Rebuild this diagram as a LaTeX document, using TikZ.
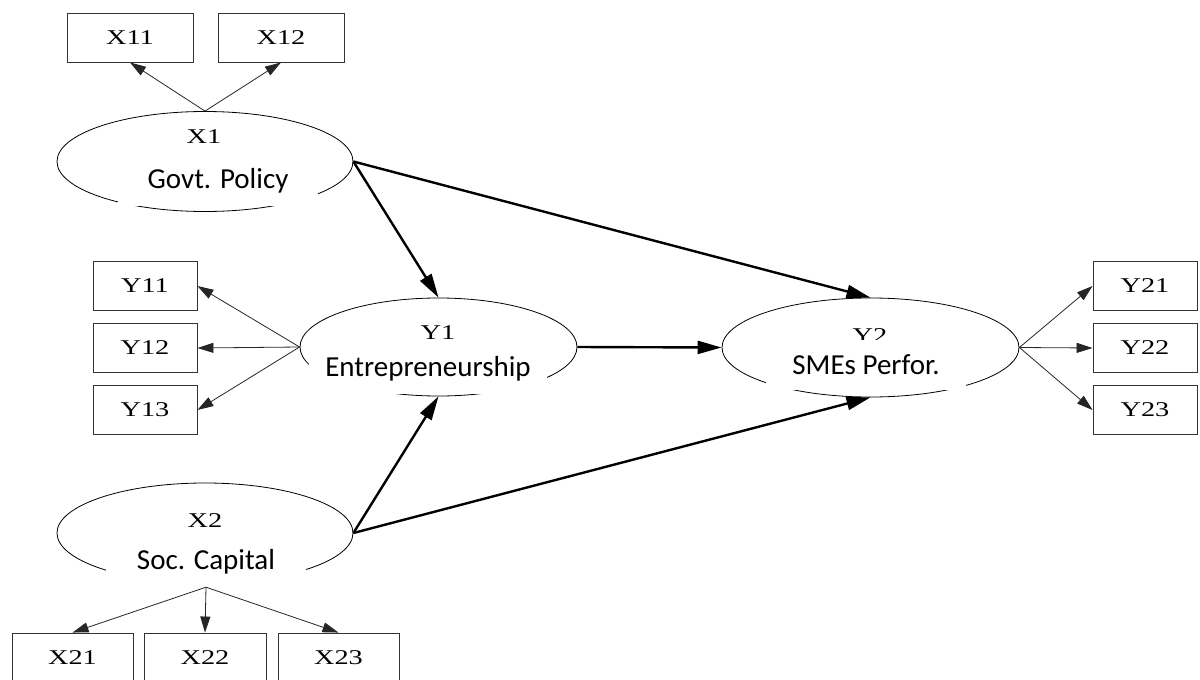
\documentclass[tikz,border=0pt]{standalone}
\usepackage{fontspec}
\setmainfont{Liberation Serif}
\newfontfamily\latfont{Carlito}
\newfontfamily\indfont[FakeStretch=1.35]{Liberation Serif}
\usetikzlibrary{arrows.meta,shapes.geometric}

\begin{document}
\begin{tikzpicture}[x=1pt, y=-1pt,
  ind/.style={draw=black!80, line width=0.9pt, minimum width=104pt, minimum height=49pt, inner sep=0pt, font=\indfont\fontsize{21}{25}\selectfont},
  lat/.style={draw=black, line width=0.8pt, ellipse, inner sep=0pt, minimum width=296pt, minimum height=100pt},
  lcode/.style={inner sep=0pt, font=\indfont\fontsize{21}{25}\selectfont},
  lname/.style={fill=white, minimum width=200pt, minimum height=50pt, inner sep=0pt, font=\latfont\fontsize{29}{34}\selectfont},
  load/.style={-{Triangle[length=16pt,width=10pt]}, line width=0.8pt, black!85},
  effect/.style={-{Triangle[length=24pt,width=13pt]}, line width=2.4pt}
]
\useasboundingbox (0,0) rectangle (1200,680);
% latent variables
\node[lat] (x1) at (205,161.5) {};
\node[lat, minimum width=277pt, minimum height=98pt] (y1) at (438.5,347) {};
\node[lat, minimum width=297pt, minimum height=99pt] (y2) at (870.5,347.5) {};
\node[lat] (x2) at (205,533) {};
\node[lcode] (x1c) at (204,137) {X1};
\node[lcode] (y1c) at (438,333) {Y1};
\node[lcode] (y2c) at (870,336) {Y2};
\node[lcode] (x2c) at (205,521) {X2};
\node[lname] (x1n) at (218,181) {Govt. Policy};
\node[lname, minimum width=238pt] (y1n) at (428,369) {Entrepreneurship};
\node[lname] (y2n) at (866,365) {SMEs Perfor.};
\node[lname] (x2n) at (206,562) {Soc. Capital};
% indicators
\node[ind, minimum width=126pt] (x11) at (130,37.5) {X11};
\node[ind, minimum width=126pt] (x12) at (281,37.5) {X12};
\node[ind] (y11) at (145,286) {Y11};
\node[ind] (y12) at (145,348) {Y12};
\node[ind] (y13) at (145,410) {Y13};
\node[ind] (y21) at (1145,286) {Y21};
\node[ind] (y22) at (1145,348) {Y22};
\node[ind] (y23) at (1145,410) {Y23};
\node[ind, minimum width=121pt] (x21) at (72.5,657.5) {X21};
\node[ind, minimum width=122pt] (x22) at (205,657.5) {X22};
\node[ind, minimum width=121pt] (x23) at (338.5,657.5) {X23};
% loadings
\draw[load] (x1.north) -- (x11.south);
\draw[load] (x1.north) -- (x12.south);
\draw[load] (y1.west) -- (y11.east);
\draw[load] (y1.west) -- (y12.east);
\draw[load] (y1.west) -- (y13.east);
\draw[load] (y2.east) -- (y21.west);
\draw[load] (y2.east) -- (y22.west);
\draw[load] (y2.east) -- (y23.west);
\draw[load] (x2n.south) -- (x21.north);
\draw[load] (x2n.south) -- (x22.north);
\draw[load] (x2n.south) -- (x23.north);
% structural paths
\draw[effect] (x1.east) -- (y1.north);
\draw[effect] (x1.east) -- (y2.north);
\draw[effect] (y1.east) -- (y2.west);
\draw[effect] (x2.east) -- (y1.south);
\draw[effect] (x2.east) -- (y2.south);
\end{tikzpicture}
\end{document}
